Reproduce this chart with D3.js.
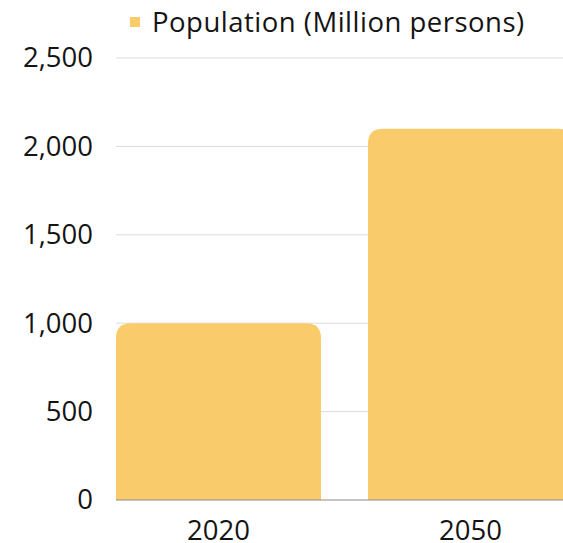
<!DOCTYPE html>
<html>
<head>
<meta charset="utf-8">
<script src="https://cdn.jsdelivr.net/npm/d3@7/dist/d3.min.js"></script>
<style>
  html, body { margin: 0; padding: 0; background: #fff; }
  svg { display: block; font-family: "Open Sans", "Noto Sans", sans-serif; }
</style>
</head>
<body>
<svg id="chart" width="563" height="543"></svg>
<script>
// Population by year
const categories = ["2020", "2050"];
const population = [1000, 2100];
const seriesName = "Population (Million persons)";
const yTicks = [0, 500, 1000, 1500, 2000, 2500];

const svg = d3.select("#chart");
const W = 563, H = 543;
const margin = { left: 116, top: 58, bottom: 43 };
const step = 252, gap = 47;
const plotRight = margin.left + 2 * step - gap; // the plot runs past the right edge of the view

const x = d3.scaleBand()
  .domain(categories)
  .range([margin.left, plotRight])
  .paddingInner(gap / step)
  .paddingOuter(0);

const y = d3.scaleLinear()
  .domain([0, 2500])
  .range([H - margin.bottom, margin.top]);

const barColor = "#FACB6A";
const textColor = "#141414";

// grid lines
svg.append("g")
  .selectAll("line")
  .data(yTicks.filter(d => d > 0))
  .join("line")
  .attr("x1", margin.left)
  .attr("x2", W)
  .attr("y1", d => y(d))
  .attr("y2", d => y(d))
  .attr("stroke", "#dcdcdc")
  .attr("stroke-width", 1);

// bars with rounded top corners
const r = 15;
svg.append("g")
  .selectAll("path")
  .data(categories.map((c, i) => ({ c, v: population[i] })))
  .join("path")
  .attr("fill", barColor)
  .attr("d", d => {
    const x0 = x(d.c), x1 = x0 + x.bandwidth();
    const y0 = y(d.v), yb = y(0);
    return `M${x0},${yb} L${x0},${y0 + r} Q${x0},${y0} ${x0 + r},${y0}` +
           ` L${x1 - r},${y0} Q${x1},${y0} ${x1},${y0 + r} L${x1},${yb} Z`;
  });

// baseline
svg.append("line")
  .attr("x1", margin.left).attr("x2", W)
  .attr("y1", y(0)).attr("y2", y(0))
  .attr("stroke", "#8a8a8a").attr("stroke-width", 1);

// y axis labels
const yAxis = d3.axisLeft(y)
  .tickValues(yTicks)
  .tickFormat(d3.format(","))
  .tickSize(0)
  .tickPadding(0);
const gy = svg.append("g")
  .attr("transform", `translate(93,0)`)
  .call(yAxis);
gy.select(".domain").remove();
gy.selectAll("text")
  .attr("font-size", 27.5)
  .attr("fill", textColor)
  .attr("font-family", "'Open Sans', sans-serif");

// x axis labels
const xAxis = d3.axisBottom(x).tickSize(0).tickPadding(0);
const gx = svg.append("g")
  .attr("transform", `translate(0,${y(0)})`)
  .call(xAxis);
gx.select(".domain").remove();
gx.selectAll("text")
  .attr("y", 39.5)
  .attr("dy", 0)
  .attr("font-size", 27.5)
  .attr("fill", textColor)
  .attr("font-family", "'Open Sans', sans-serif");

// legend
const legend = svg.append("g");
legend.append("rect")
  .attr("x", 130).attr("y", 17)
  .attr("width", 10).attr("height", 10)
  .attr("fill", barColor);
legend.append("text")
  .attr("x", 152).attr("y", 31.5)
  .attr("font-size", 27.5)
  .attr("letter-spacing", 0.5)
  .attr("fill", textColor)
  .text(seriesName);
</script>
</body>
</html>
